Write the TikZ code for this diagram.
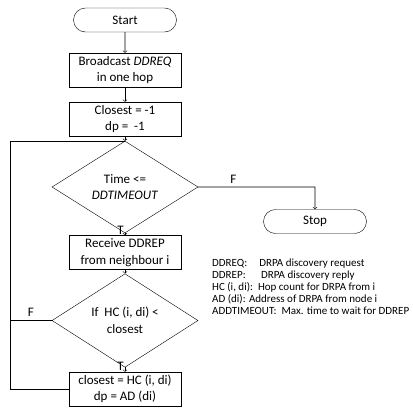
\documentclass[tikz,border=0pt]{standalone}
\usepackage{fontspec}
\setmainfont{Carlito}
\usetikzlibrary{shapes.geometric,shapes.misc}
\begin{document}
\begin{tikzpicture}[x=1pt,y=-1pt,
    every node/.style={font=\fontsize{13}{16.5}\selectfont},
    term/.style={draw,rounded rectangle,minimum width=103pt,minimum height=24pt,inner sep=0pt},
    proc/.style={draw,rectangle,minimum width=112pt,minimum height=34pt,inner sep=0pt,align=center},
    test/.style={draw,diamond,minimum width=146pt,minimum height=75pt,inner sep=0pt,align=center},
    tlabel/.style={pos=1,anchor=south east,inner sep=1pt,text depth=0pt},
    flow/.style={->,line width=0.6pt},
    line/.style={line width=0.6pt}]
    \useasboundingbox (0,0) rectangle (413,413);
    % boxes of the flow
    \node[term] (start) at (125,20) {Start};
    \node[proc] (bcast) at (125,70) {Broadcast \textit{DDREQ}\\in one hop};
    \node[proc] (init) at (125,119) {Closest = -1\\dp =~ -1};
    \node[test] (tcheck) at (125,187) {Time <=\\\textit{DDTIMEOUT}};
    \node[term] (stop) at (315,221.5) {Stop};
    \node[proc] (recv) at (125,252.5) {Receive DDREP\\from neighbour i};
    \node[test] (hccheck) at (125,320.5) {If~ HC (i, di) <\\closest};
    \node[proc] (upd) at (125,389) {closest = HC (i, di)\\dp = AD (di)};
    \coordinate (lp) at (10,141);
    % connectors
    \draw[flow] (start) -- (bcast);
    \draw[flow] (bcast) -- (init);
    \draw[flow] (init) -- (tcheck);
    \draw[flow] (tcheck.east) -- node[above,pos=0.3]{F} (tcheck.east -| stop) -- (stop);
    \draw[flow] (tcheck.south) -- node[tlabel]{T} (recv);
    \draw[flow] (recv) -- (hccheck);
    \draw[flow] (hccheck.south) -- node[tlabel]{T} (upd);
    \draw[line] (hccheck.west) -- node[above,pos=0.5]{F} (hccheck.west -| lp);
    \draw[line] (upd.west) -- (upd.west -| lp) -- (lp) -- (lp -| tcheck.north);
    % legend
    \node[anchor=north west,align=left,inner sep=0pt,font=\fontsize{11}{12}\selectfont] (legend) at (212,258.5)
      {DDREQ:\hspace{1.1em}DRPA discovery request\\
       DDREP:\hspace{1.4em}DRPA discovery reply\\
       HC (i, di):\hspace{0.45em}Hop count for DRPA from i\\
       AD (di): Address of DRPA from node i\\
       ADDTIMEOUT:\hspace{0.45em}Max. time to wait for DDREP};
\end{tikzpicture}
\end{document}
